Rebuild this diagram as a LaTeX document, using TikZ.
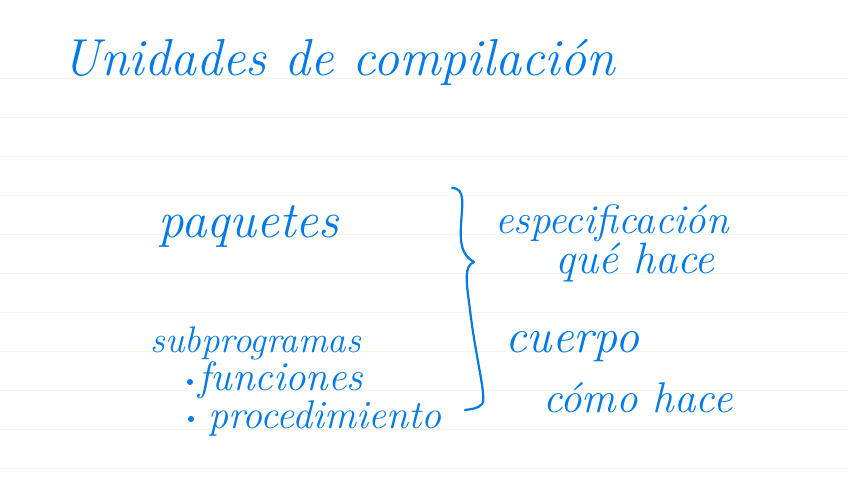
\documentclass[tikz,border=0pt]{standalone}
\usepackage{tikz}
\usetikzlibrary{positioning}
\definecolor{inkblue}{RGB}{0,122,230}
\definecolor{ruleline}{RGB}{249,244,232}

\tikzset{
  hand/.style={text=inkblue, anchor=base west, inner sep=0pt,
    font=\fontsize{#1}{#1}\selectfont\itshape},
  hand/.default=40,
  dot/.style={circle, fill=inkblue, inner sep=0pt, minimum size=6pt},
  inkline/.style={draw=inkblue, line width=2.2pt, line cap=round, line join=round}
}

\begin{document}
\begin{tikzpicture}[x=1pt,y=-1pt]
      % Paper and ruling
      \fill[white] (0,0) rectangle (848,488);
      \useasboundingbox (0,0) rectangle (848,488);
      \foreach \ly in {78,117,...,468}
        \draw[ruleline, line width=1pt] (0,\ly) -- (848,\ly);
      % Title
      \node[hand=52] (title) at (62,75) {Unidades de compilación};
      % Left column
      \node[hand=51] (paq) at (158,237) {paquetes};
      \node[hand=37] (subp) at (150,352) {subprogramas};
      \node[dot] (b1) at (190,382) {};
      \node[hand=41] (func) at (198,390) {funciones};
      \node[dot] (b2) at (191,419) {};
      \node[hand=40] (proc) at (208,428) {procedimiento};
      % Brace
      \draw[inkline] (452,188) .. controls (466,188) and (462,205) .. (461,225)
        .. controls (460,245) and (462,255) .. (474,262)
        .. controls (464,266) and (466,280) .. (470,310)
        .. controls (476,360) and (487,398) .. (482,404)
        .. controls (478,409) and (471,409) .. (465,410);
      % Right column
      \node[hand=41] (espec) at (495,233) {especificación};
      \node[hand=44] (que) at (555,273) {qué hace};
      \node[hand=48] (cuer) at (505,352) {cuerpo};
      \node[hand=43] (como) at (543,412) {cómo hace};
\end{tikzpicture}
\end{document}
